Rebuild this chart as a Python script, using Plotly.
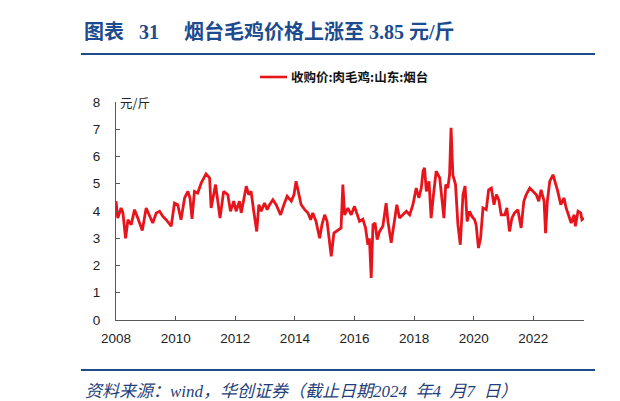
import plotly.graph_objects as go
import pandas as pd

# ---- data ----
years = [
    2008.00, 2008.06, 2008.17, 2008.23, 2008.32, 2008.40, 2008.51, 2008.62, 2008.73, 2008.88,
    2009.01, 2009.12, 2009.23, 2009.35, 2009.46, 2009.57, 2009.68, 2009.85, 2009.96,
    2010.07, 2010.18, 2010.30, 2010.41, 2010.48, 2010.55, 2010.63, 2010.74, 2010.86,
    2011.02, 2011.14, 2011.19, 2011.34, 2011.49, 2011.61, 2011.75, 2011.84, 2011.95,
    2012.03, 2012.14, 2012.20, 2012.31, 2012.37, 2012.45, 2012.53, 2012.62, 2012.72, 2012.79, 2012.87, 2012.98,
    2013.07, 2013.15, 2013.26, 2013.37, 2013.52, 2013.63, 2013.74, 2013.88, 2013.97,
    2014.04, 2014.12, 2014.21, 2014.33, 2014.44, 2014.53, 2014.60, 2014.71, 2014.83, 2014.91,
    2015.00, 2015.08, 2015.16, 2015.22, 2015.31, 2015.44, 2015.55, 2015.61, 2015.67, 2015.78, 2015.89,
    2016.00, 2016.08, 2016.17, 2016.28, 2016.37, 2016.45, 2016.50, 2016.56, 2016.62, 2016.69, 2016.76, 2016.84, 2016.95,
    2017.06, 2017.12, 2017.23, 2017.35, 2017.42, 2017.51, 2017.62, 2017.74, 2017.85, 2017.96,
    2018.07, 2018.16, 2018.24, 2018.30, 2018.35, 2018.41, 2018.50, 2018.57, 2018.65, 2018.74, 2018.86, 2018.94,
    2019.00, 2019.06, 2019.13, 2019.19, 2019.24, 2019.30, 2019.39, 2019.47, 2019.55, 2019.64, 2019.71, 2019.78, 2019.86, 2019.94,
    2020.03, 2020.08, 2020.16, 2020.23, 2020.31, 2020.42, 2020.50, 2020.59, 2020.68, 2020.76, 2020.84, 2020.92,
    2021.04, 2021.11, 2021.20, 2021.28, 2021.37, 2021.48, 2021.59, 2021.68, 2021.76, 2021.88, 2021.99,
    2022.10, 2022.18, 2022.26, 2022.36, 2022.41, 2022.47, 2022.55, 2022.66, 2022.73, 2022.82, 2022.92,
    2023.03, 2023.10, 2023.19, 2023.27, 2023.37, 2023.41, 2023.50, 2023.59, 2023.63, 2023.70,
]
prices = [
    4.36, 3.74, 4.11, 3.95, 3.00, 3.68, 3.50, 4.05, 3.74, 3.28,
    4.11, 3.86, 3.56, 3.93, 3.99, 3.80, 3.68, 3.44, 4.29,
    4.23, 3.68, 4.48, 4.72, 4.48, 3.71, 4.72, 4.66, 5.03,
    5.36, 5.21, 4.11, 4.97, 3.74, 4.72, 4.60, 3.99, 4.36,
    3.99, 4.36, 3.93, 4.54, 4.91, 4.60, 4.72, 3.99, 3.25, 4.23, 3.99, 4.29,
    4.05, 4.23, 4.41, 4.23, 3.86, 4.23, 4.54, 4.36, 4.60,
    5.09, 4.72, 4.23, 4.05, 3.93, 3.68, 3.93, 3.62, 3.00, 3.50,
    3.86, 3.62, 2.89, 2.34, 3.19, 3.31, 3.38, 4.97, 3.86, 4.11, 3.86,
    4.17, 3.93, 3.62, 3.70, 3.38, 2.76, 3.00, 1.54, 3.50, 3.56, 2.95, 3.25, 3.44,
    4.29, 3.62, 2.83, 3.74, 4.23, 3.74, 3.86, 3.99, 3.86, 4.23,
    4.84, 4.48, 4.84, 5.46, 5.58, 4.72, 5.09, 3.74, 4.60, 5.46, 5.21, 4.23,
    3.74, 4.97, 4.84, 5.33, 7.05, 5.33, 4.97, 3.50, 2.76, 4.60, 4.91, 3.62, 3.99, 3.80,
    3.68, 3.50, 2.64, 3.00, 4.11, 4.05, 4.78, 4.84, 4.23, 4.60, 4.41, 3.86,
    3.86, 4.11, 3.25, 3.74, 3.93, 4.05, 3.38, 4.36, 4.60, 4.84, 4.72,
    4.60, 4.36, 4.78, 4.36, 3.19, 4.36, 5.09, 5.33, 5.09, 4.72, 4.23,
    4.48, 4.11, 3.80, 3.56, 3.86, 3.44, 3.99, 3.93, 3.68, 3.74,
]
series_name = "收购价:肉毛鸡:山东:烟台"
unit_label = "元/斤"
NB = "\u00a0"
title_text = "图表" + NB * 3 + "31" + "\u3000" + NB + "烟台毛鸡价格上涨至" + NB + "3.85" + NB + "元/斤"
source_text = "资料来源：wind，华创证券（截止日期2024" + NB * 2 + "年4" + NB * 2 + "月7" + NB * 2 + "日）"
y_ticks = [0, 1, 2, 3, 4, 5, 6, 7, 8]


def to_date(y):
    yr = int(y)
    start = pd.Timestamp(year=yr, month=1, day=1)
    end = pd.Timestamp(year=yr + 1, month=1, day=1)
    return start + (end - start) * (y - yr)


dates = [to_date(y) for y in years]

# ---- layout geometry (pixels) ----
W, H = 620, 401
L, R, T, B = 108, 576, 94, 312


def px(x):
    return (x - L) / (R - L)


def py(y):
    return (B - y) / (B - T)


BLUE = "#1d4b8f"
RED = "#e8141c"
AXIS = "#595959"
TICKFONT = dict(family="Liberation Sans, Arial, sans-serif", size=13.5, color="#222222")

fig = go.Figure()
fig.add_trace(go.Scatter(
    x=dates, y=prices, mode="lines", name=series_name,
    line=dict(color=RED, width=2.8), showlegend=False,
))

fig.update_layout(
    width=W, height=H,
    margin=dict(l=L, r=W - R, t=T, b=H - B, pad=0, autoexpand=False),
    paper_bgcolor="white", plot_bgcolor="white",
    showlegend=False,
    font=dict(family="Liberation Sans, Arial, sans-serif", color="#222222"),
)

fig.update_xaxes(
    type="date", automargin=False,
    range=[dates[0], dates[-1]],
    tick0="2008-01-01", dtick="M24", tickformat="%Y",
    showline=True, linecolor=AXIS, linewidth=1,
    ticks="inside", ticklen=4, tickcolor=AXIS,
    showgrid=False, zeroline=False,
    tickfont=TICKFONT, ticklabelstandoff=6,
)
fig.update_yaxes(
    range=[0, 8], tickvals=y_ticks, automargin=False,
    showline=True, linecolor=AXIS, linewidth=1,
    ticks="inside", ticklen=4, tickcolor=AXIS,
    showgrid=False, zeroline=False,
    tickfont=TICKFONT, ticklabelstandoff=12,
)

# legend (drawn manually)
fig.add_shape(type="line", xref="paper", yref="paper",
              x0=px(252), x1=px(279), y0=py(69), y1=py(69),
              line=dict(color=RED, width=2.6))
fig.add_annotation(
    x=px(281), y=py(69), xref="paper", yref="paper",
    text=series_name, showarrow=False, xanchor="left", yanchor="middle",
    font=dict(family="Noto Sans CJK SC", size=12.5, color="#111111", weight="bold"),
)

# unit label
fig.add_annotation(
    x=px(110), y=py(94), xref="paper", yref="paper",
    text=unit_label, showarrow=False, xanchor="left", yanchor="middle",
    font=dict(family="Noto Sans CJK SC", size=12.5, color="#222222"),
)

# title
fig.add_annotation(
    x=px(74), y=py(23), xref="paper", yref="paper",
    text=title_text, showarrow=False, xanchor="left", yanchor="middle",
    font=dict(family="Liberation Serif, Noto Sans CJK SC", size=20, color=BLUE, weight="bold"),
)
# fragment of neighbouring panel title
fig.add_annotation(
    x=px(616), y=py(23), xref="paper", yref="paper",
    text="图", showarrow=False, xanchor="left", yanchor="middle",
    font=dict(family="Noto Sans CJK SC", size=20, color=BLUE, weight="bold"),
)

# source
fig.add_annotation(
    x=px(75), y=py(383), xref="paper", yref="paper",
    text=source_text, showarrow=False, xanchor="left", yanchor="middle",
    font=dict(family="Liberation Serif, Noto Sans CJK SC", size=17, color="#1f3f7a", style="italic"),
)

# rules
for yy in (46, 362):
    fig.add_shape(type="line", xref="paper", yref="paper",
                  x0=px(73), x1=px(587), y0=py(yy), y1=py(yy),
                  line=dict(color=BLUE, width=2.2))
    fig.add_shape(type="line", xref="paper", yref="paper",
                  x0=px(615), x1=px(622), y0=py(yy), y1=py(yy),
                  line=dict(color=BLUE, width=2.2))

fig.write_html("out.html")
